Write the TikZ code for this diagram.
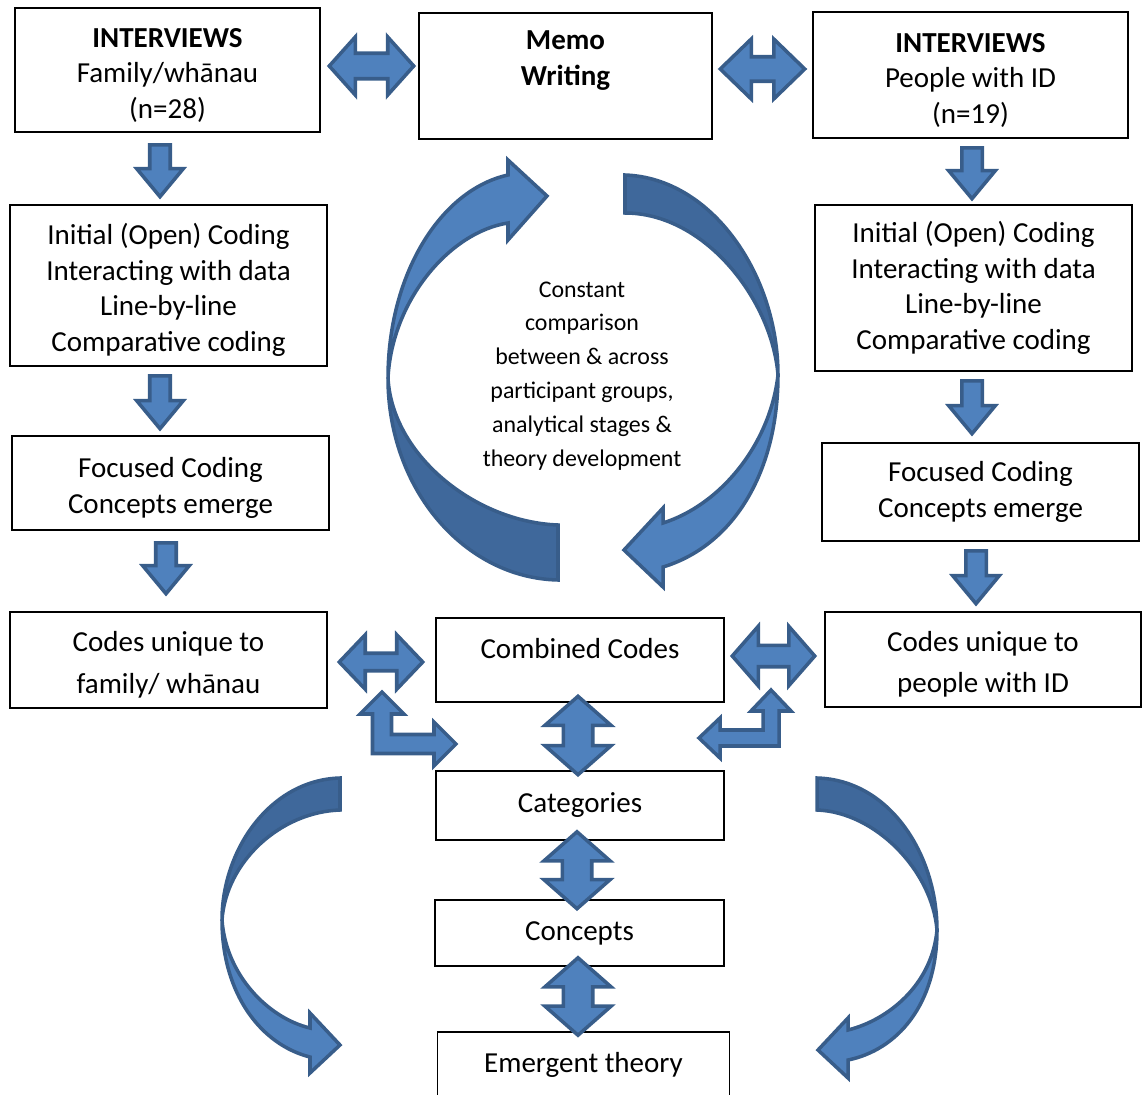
\documentclass[tikz,border=0pt]{standalone}
\usepackage{fontspec}
\setmainfont{Carlito}
\usetikzlibrary{calc}
\definecolor{arrfill}{HTML}{4F81BD}
\definecolor{arrline}{HTML}{385D8A}
\definecolor{arrback}{HTML}{3F689B}
\newcommand{\boxfont}{\fontsize{16.5}{20.2}\selectfont}
\newcommand{\loopfont}{\fontsize{13.6}{19.3}\selectfont}
\newcommand{\topgap}{\rule{0pt}{17pt}}

\begin{document}
\begin{tikzpicture}[
  x=0.02cm, y=-0.02cm,
  box/.style={draw, line width=0.9pt, align=center, font=\boxfont, inner sep=0.1cm},
  blk/.style={draw=arrline, fill=arrfill, line width=2pt, line join=miter},
  back/.style={blk, fill=arrback},
  one way/.style n args={3}{blk, to path={
    let \p1=(\tikztostart), \p2=(\tikztotarget),
        \n1={atan2(\y2-\y1,\x2-\x1)}, \n2={veclen(\x2-\x1,\y2-\y1)} in
    {[shift={(\p1)}, rotate=\n1]
      (0pt,#1) -- (\n2*1pt-#3,#1) -- (\n2*1pt-#3,#2) -- (\n2*1pt,0pt)
      -- (\n2*1pt-#3,-#2) -- (\n2*1pt-#3,-#1) -- (0pt,-#1) -- cycle}}},
  two way/.style n args={3}{blk, to path={
    let \p1=(\tikztostart), \p2=(\tikztotarget),
        \n1={atan2(\y2-\y1,\x2-\x1)}, \n2={veclen(\x2-\x1,\y2-\y1)} in
    {[shift={(\p1)}, rotate=\n1]
      (0pt,0pt) -- (#3,#2) -- (#3,#1) -- (\n2*1pt-#3,#1) -- (\n2*1pt-#3,#2)
      -- (\n2*1pt,0pt) -- (\n2*1pt-#3,-#2) -- (\n2*1pt-#3,-#1) -- (#3,-#1)
      -- (#3,-#2) -- cycle}}},
  down arr/.style={one way={0.205cm}{0.465cm}{0.56cm}},
  vert arr/.style={two way={0.295cm}{0.66cm}{0.58cm}}
]
\useasboundingbox (0,0) rectangle (1143,1095);

\node[box, minimum width=6.1cm, minimum height=2.48cm] (famint) at (167.5,70) {\topgap\textbf{INTERVIEWS}\\Family/whānau\\(n=28)};
\node[box, minimum width=5.86cm, minimum height=2.52cm, font=\boxfont\bfseries] (memo) at (565.5,76) {Memo\\Writing\\~};
\node[box, minimum width=6.3cm, minimum height=2.52cm] (idint) at (970.5,75) {\topgap\textbf{INTERVIEWS}\\People with ID\\(n=19)};
\node[box, minimum width=6.34cm, minimum height=3.22cm] (faminit) at (168.5,285.5) {\topgap Initial (Open) Coding\\Interacting with data\\Line-by-line\\Comparative coding};
\node[box, minimum width=6.34cm, minimum height=3.32cm] (idinit) at (973.5,288) {Initial (Open) Coding\\Interacting with data\\Line-by-line\\Comparative coding};
\node[box, minimum width=6.34cm, minimum height=1.88cm] (famfoc) at (170.5,483) {\topgap Focused Coding\\Concepts emerge};
\node[box, minimum width=6.34cm, minimum height=1.96cm] (idfoc) at (980.5,492) {Focused Coding\\Concepts emerge};
\node[box, minimum width=6.34cm, minimum height=1.92cm] (famcode) at (168.5,660) {\topgap Codes unique to\\[0.12cm]family/ whānau};
\node[box, minimum width=5.76cm, text height=0.7cm, text depth=0.78cm] (combined) at (580,660) {Combined Codes};
\node[box, minimum width=6.32cm, minimum height=1.9cm] (idcode) at (983,659.5) {\topgap Codes unique to\\[0.12cm]people with ID};
\node[box, minimum width=5.76cm, minimum height=1.38cm] (categories) at (580,805.5) {Categories};
\node[box, minimum width=5.78cm, minimum height=1.32cm] (concepts) at (579.5,933) {Concepts};
\node[box, minimum width=5.84cm, minimum height=1.32cm] (emergent) at (583.5,1065) {Emergent theory};
\node[font=\loopfont, align=center] (loop) at (582,376) {Constant\\comparison\\between \& across\\participant groups,\\analytical stages \&\\theory development};

\draw[back] (388,378) .. controls (388,490) and (465,578) .. (558,580) -- (558,525) .. controls (475,522) and (392,455) .. (388,378) -- cycle;
\draw[blk] (388,378) .. controls (388,275) and (440,190) .. (508,175) -- (508,160) -- (547,196) -- (508,240) -- (508,223) .. controls (450,232) and (392,300) .. (388,378) -- cycle;
\draw[back] (625,175) .. controls (712,178) and (778,275) .. (778,375) .. controls (772,300) and (705,213) .. (625,213) -- cycle;
\draw[blk] (778,375) .. controls (778,470) and (735,545) .. (663,567) -- (663,587) -- (624,550) -- (663,508) -- (663,523) .. controls (720,505) and (770,445) .. (778,375) -- cycle;
\draw[back] (340,778) .. controls (270,780) and (222,850) .. (222,920) .. controls (226,862) and (280,812) .. (340,810) -- cycle;
\draw[blk] (222,920) .. controls (222,995) and (262,1045) .. (310,1057) -- (310,1073) -- (340,1045) -- (310,1013) -- (310,1028) .. controls (268,1018) and (226,975) .. (222,920) -- cycle;
\draw[back] (817,778) .. controls (890,780) and (937,855) .. (937,930) .. controls (932,870) and (875,812) .. (817,810) -- cycle;
\draw[blk] (937,930) .. controls (937,1005) and (897,1050) .. (848,1060) -- (848,1078) -- (818,1050) -- (848,1018) -- (848,1030) .. controls (888,1020) and (932,985) .. (937,930) -- cycle;

\draw[down arr] ([xshift=-0.15cm,yshift=-0.24cm]famint.south) to ([xshift=-0.17cm,yshift=0.15cm]faminit.north);
\draw[down arr] ([xshift=-0.17cm,yshift=-0.18cm]faminit.south) to ([xshift=-0.21cm,yshift=0.13cm]famfoc.north);
\draw[down arr] ([xshift=-0.09cm,yshift=-0.24cm]famfoc.south) to ([xshift=-0.05cm,yshift=0.35cm]famcode.north);
\draw[down arr] ([xshift=0.03cm,yshift=-0.18cm]idint.south) to ([xshift=-0.03cm,yshift=0.11cm]idinit.north);
\draw[down arr] ([xshift=-0.03cm,yshift=-0.18cm]idinit.south) to ([xshift=-0.17cm,yshift=0.17cm]idfoc.north);
\draw[down arr] ([xshift=-0.09cm,yshift=-0.18cm]idfoc.south) to ([xshift=-0.14cm,yshift=0.15cm]idcode.north);

\draw[two way={0.255cm}{0.58cm}{0.52cm}] ([xshift=0.17cm,yshift=0.08cm]famint.east) to ([xshift=-0.09cm,yshift=0.2cm]memo.west);
\draw[two way={0.245cm}{0.6cm}{0.62cm}] ([xshift=0.15cm,yshift=0.14cm]memo.east) to ([xshift=-0.15cm,yshift=0.12cm]idint.west);
\draw[two way={0.175cm}{0.545cm}{0.52cm}] ([xshift=0.23cm,yshift=-0.04cm]famcode.east) to ([xshift=-0.25cm,yshift=-0.04cm]combined.west);
\draw[two way={0.215cm}{0.595cm}{0.52cm}] ([xshift=0.15cm,yshift=0.08cm]combined.east) to ([xshift=-0.19cm,yshift=0.07cm]idcode.west);

\draw[vert arr] ([xshift=-0.04cm,yshift=0.13cm]combined.south) to ([xshift=-0.04cm,yshift=-0.09cm]categories.north);
\draw[vert arr] ([xshift=-0.06cm,yshift=0.18cm]categories.south) to ([xshift=-0.05cm,yshift=-0.19cm]concepts.north);
\draw[vert arr] ([xshift=-0.03cm,yshift=0.18cm]concepts.south) to ([xshift=-0.11cm,yshift=-0.08cm]emergent.north);

\coordinate (lbend) at (382,744);
\coordinate (rbend) at (771,738);
\draw[blk, shift={(lbend)}] (-9.5,9.5) -- (-9.5,-30) -- (-22,-30) -- (0,-52) -- (22,-30) -- (9.5,-30) -- (9.5,-9.5)
  -- (52,-9.5) -- (52,-22) -- (74,0) -- (52,22) -- (52,9.5) -- cycle;
\draw[blk, shift={(rbend)}] (8,8) -- (8,-27) -- (20,-27) -- (0,-48) -- (-20,-27) -- (-8,-27) -- (-8,-8)
  -- (-51,-8) -- (-51,-20) -- (-72,0) -- (-51,20) -- (-51,8) -- cycle;
\end{tikzpicture}
\end{document}
